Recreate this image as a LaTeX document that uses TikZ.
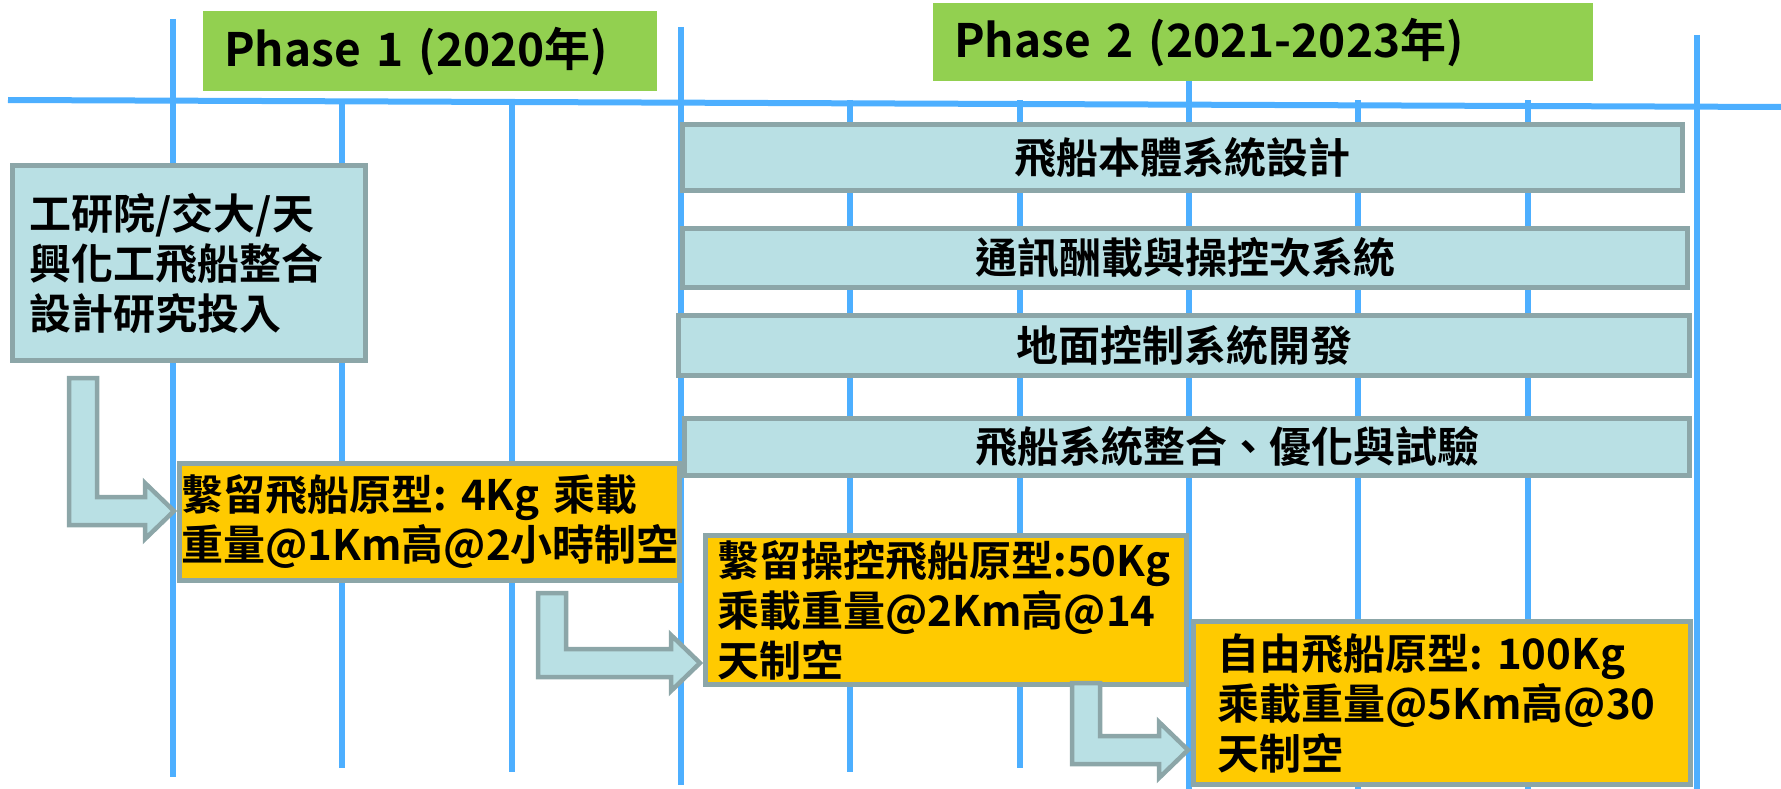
\documentclass[tikz,border=0pt]{standalone}
\usepackage{fontspec}
\setmainfont{Noto Sans CJK TC}[BoldFont={Noto Sans CJK TC Bold}]
\usetikzlibrary{positioning, calc}
\definecolor{gridblue}{RGB}{77,175,255}
\definecolor{phasegreen}{RGB}{146,208,80}
\definecolor{taskblue}{RGB}{185,224,228}
\definecolor{edgegray}{RGB}{140,166,168}
\definecolor{protoyellow}{RGB}{255,202,0}
\frenchspacing
\begin{document}
\begin{tikzpicture}[x=1pt, y=-1pt,
    grid line/.style={gridblue, line width=6pt},
    phase/.style={fill=phasegreen, anchor=north west, inner xsep=21pt, inner ysep=0pt,
      align=left, font=\bfseries\fontsize{46}{54}\selectfont},
    task/.style={draw=edgegray, fill=taskblue, line width=5pt, anchor=north west,
      inner ysep=2pt, font=\bfseries\fontsize{42}{50}\selectfont},
    proto/.style={draw=edgegray, fill=protoyellow, line width=5pt, anchor=north west,
      inner ysep=2pt, align=left, font=\bfseries\fontsize{42}{50}\selectfont},
    bend arrow/.style={draw=edgegray, fill=taskblue, line width=4.5pt}]
  \useasboundingbox (0,0) rectangle (1781,789);
  \draw[grid line] (8,100) -- (1781,107);
  \foreach \k/\ya/\yb in {0/19/777, 1/100/768, 2/100/772, 3/27/785, 4/100/772,
      5/100/768, 6/80/789, 7/100/789, 8/100/789, 9/35/789}
    \draw[grid line] (173+169.33*\k,\ya) -- (173+169.33*\k,\yb);

  \node[phase, text width=412, minimum height=80] (phase_1) at (203,11) {Phase 1 (2020年)};
  \node[phase, text width=618, minimum height=78] (phase_2) at (933,3) {Phase 2 (2021-2023年)};

  \node[task, align=left, text width=319, inner xsep=17pt, minimum height=195] (lab) at (10,163)
    {工研院/交大/天\\興化工飛船整合\\設計研究投入};
  \node[task, minimum width=1000, minimum height=66] (body) at (680,122) {飛船本體系統設計};
  \node[task, below=33pt of body.south west, anchor=north west, minimum width=1005,
    minimum height=59] (comm) {通訊酬載與操控次系統};
  \node[task, below=23pt of comm.south west, anchor=north west, xshift=-4pt, minimum width=1011,
    minimum height=60] (ground) {地面控制系統開發};
  \node[task, below=38pt of ground.south west, anchor=north west, xshift=6pt, minimum width=1005,
    minimum height=57] (integ) {\kern80pt 飛船系統整合、優化與試驗};

  \node[proto, text width=496, inner xsep=2pt, minimum height=117] (proto_1) at (177,461)
    {繫留飛船原型: 4Kg 乘載\\重量@1Km高@2小時制空};
  \node[proto, text width=457, inner xsep=12pt, minimum height=149] (proto_2) at (703,533)
    {繫留操控飛船原型:50Kg\\乘載重量@2Km高@14\\天制空};
  \node[proto, text width=449, inner xsep=24pt, minimum height=163] (proto_3) at (1191,619)
    {自由飛船原型: 100Kg\\乘載重量@5Km高@30\\天制空};

  \coordinate (stem_1) at (83,378);
  \coordinate (stem_2) at (552,593);
  \coordinate (stem_3) at (1086,683);
  \coordinate (tip_1) at ($(proto_1.west |- 0,511)+(-3,0)$);
  \coordinate (tip_2) at ($(proto_2.west |- 0,663)+(-3,0)$);
  \coordinate (tip_3) at ($(proto_3.west |- 0,750)+(-3,0)$);
  \foreach \s/\t in {stem_1/tip_1, stem_2/tip_2, stem_3/tip_3}
    \draw[bend arrow] let \p1=(\s), \p2=(\t) in
      (\x1-14pt,\y1) -- (\x1+14pt,\y1) -- (\x1+14pt,\y2+14pt) -- (\x2-29pt,\y2+14pt)
      -- (\x2-29pt,\y2+28pt) -- (\x2,\y2) -- (\x2-29pt,\y2-28pt) -- (\x2-29pt,\y2-14pt)
      -- (\x1-14pt,\y2-14pt) -- cycle;
\end{tikzpicture}
\end{document}
